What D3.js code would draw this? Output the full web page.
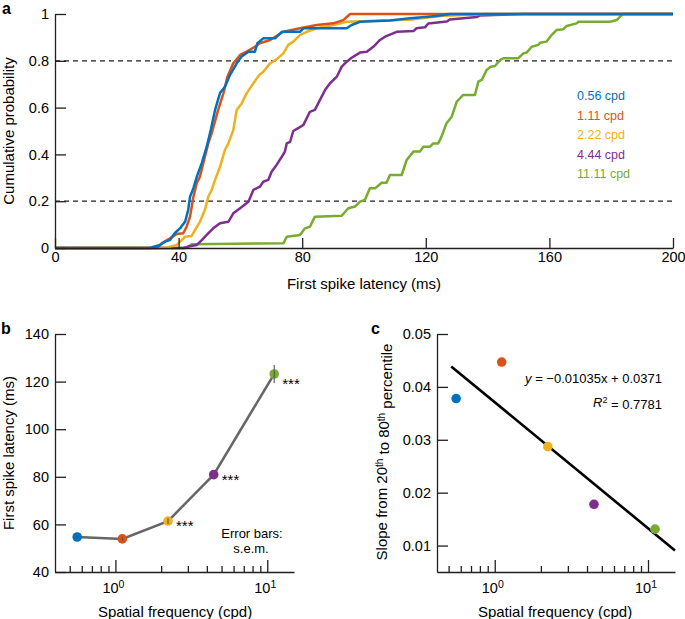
<!DOCTYPE html>
<html>
<head>
<meta charset="utf-8">
<script src="https://cdn.jsdelivr.net/npm/d3@7"></script>
<style>
  html, body { margin: 0; padding: 0; background: #fff; }
  svg { display: block; font-family: "Liberation Sans", Arial, Helvetica, sans-serif; }
</style>
</head>
<body>
<svg id="chart" width="685" height="619"></svg>
<script>
// ---------------- DATA ----------------
const freqs = [0.56, 1.11, 2.22, 4.44, 11.11];
const freqLabels = ["0.56 cpd", "1.11 cpd", "2.22 cpd", "4.44 cpd", "11.11 cpd"];
const colors = ["#0072BD", "#D95319", "#EDB120", "#7E2F8E", "#77AC30"];

// Panel a: cumulative distributions of first spike latency [ms, probability]
const cdf056 = [[0,0],[30.7,0],[31.7,0.004],[34.0,0.013],[35.6,0.027],[37.2,0.034],[38.8,0.064],[40.5,0.085],[42.1,0.112],[43.1,0.162],[43.7,0.219],[44.8,0.256],[45.9,0.305],[47.5,0.363],[49.1,0.433],[50.4,0.504],[51.8,0.590],[53.4,0.662],[55.0,0.689],[56.6,0.739],[58.8,0.789],[60.4,0.818],[62.6,0.839],[64.7,0.839],[65.5,0.875],[67.4,0.896],[71.2,0.896],[73.4,0.924],[79.3,0.924],[80.4,0.939],[94.4,0.939],[96.0,0.953],[98.7,0.967],[108.4,0.972],[114.9,0.982],[123.5,0.991],[127.8,1],[200,1]];
const cdf111 = [[0,0],[33.0,0],[34.5,0.020],[37.2,0.041],[39.4,0.060],[41.5,0.063],[42.6,0.091],[43.7,0.134],[44.8,0.219],[45.9,0.278],[46.9,0.305],[48.0,0.362],[49.6,0.447],[50.7,0.490],[52.8,0.590],[54.5,0.661],[55.8,0.732],[57.7,0.789],[59.9,0.825],[62.0,0.839],[64.7,0.860],[66.3,0.875],[69.6,0.889],[73.9,0.924],[79.3,0.939],[84.7,0.953],[90.1,0.960],[93.3,0.974],[95.5,1],[200,1]];
const cdf222 = [[0,0],[35.6,0],[39.4,0.013],[41.0,0.034],[42.1,0.048],[44.2,0.051],[45.3,0.077],[46.9,0.112],[48.5,0.162],[49.6,0.219],[50.7,0.248],[51.8,0.291],[53.4,0.347],[55.0,0.419],[56.1,0.447],[57.7,0.504],[58.8,0.590],[60.4,0.618],[62.0,0.661],[64.2,0.704],[66.1,0.739],[67.4,0.753],[69.6,0.789],[71.7,0.806],[73.9,0.832],[75.5,0.868],[77.1,0.882],[79.3,0.910],[81.5,0.924],[84.7,0.939],[90.1,0.953],[94.4,0.967],[115.9,0.977],[124.6,0.991],[139.5,1],[200,1]];
const cdf444 = [[0,0],[41.5,0],[43.1,0.006],[45.9,0.013],[47.5,0.034],[49.1,0.056],[51.2,0.084],[53.4,0.106],[56.1,0.112],[57.7,0.148],[59.9,0.170],[62.6,0.198],[64.2,0.248],[66.3,0.262],[67.4,0.283],[69.0,0.291],[70.1,0.326],[71.7,0.355],[73.4,0.390],[74.4,0.412],[75.0,0.447],[76.1,0.454],[77.1,0.500],[78.7,0.512],[80.4,0.526],[82.5,0.582],[84.1,0.590],[86.3,0.647],[87.4,0.675],[89.0,0.704],[91.2,0.732],[92.8,0.775],[94.4,0.796],[96.0,0.813],[98.7,0.835],[100.9,0.839],[103.0,0.860],[105.2,0.889],[106.8,0.903],[110.6,0.924],[116.0,0.927],[117.0,0.939],[119.7,0.943],[120.8,0.959],[126.8,0.968],[127.8,0.977],[136.5,0.987],[137.5,0.994],[151.5,1],[200,1]];
const cdf1111 = [[0,0],[42.6,0],[44.2,0.016],[73.9,0.020],[75.0,0.048],[79.3,0.056],[80.9,0.084],[82.5,0.091],[84.1,0.134],[92.8,0.138],[94.9,0.170],[97.1,0.177],[98.7,0.198],[100.3,0.205],[101.9,0.255],[103.6,0.255],[105.7,0.279],[107.3,0.279],[108.4,0.312],[112.2,0.312],[113.8,0.376],[116.0,0.412],[118.1,0.412],[119.2,0.433],[121.4,0.433],[122.4,0.447],[124.0,0.447],[125.1,0.476],[126.7,0.533],[128.4,0.561],[130.0,0.625],[132.1,0.654],[135.9,0.654],[137.0,0.711],[138.1,0.718],[139.7,0.761],[141.0,0.775],[142.4,0.778],[144.0,0.803],[145.1,0.811],[149.9,0.811],[151.6,0.832],[152.6,0.835],[154.3,0.860],[156.4,0.868],[157.0,0.877],[159.1,0.882],[160.7,0.910],[162.4,0.932],[164.5,0.935],[165.6,0.949],[168.8,0.960],[169.4,0.967],[179.6,0.967],[181.8,0.974],[182.8,0.988],[183.9,1],[200,1]];
const cdfSeries = [cdf056, cdf111, cdf222, cdf444, cdf1111];
const latencyTicks = [0, 40, 80, 120, 160, 200];
const probTicks = [0, 0.2, 0.4, 0.6, 0.8, 1];
const refLines = [0.2, 0.8];

// Panel b: mean first spike latency (ms) and s.e.m.
const meanLatency = [54.7, 53.9, 61.4, 80.9, 123.2];
const semLatency = [0.6, 0.8, 1.2, 1.4, 3.8];
const sigLabels = ["", "", "***", "***", "***"];
const latTicksB = [40, 60, 80, 100, 120, 140];

// Panel c: slope from 20th to 80th percentile
const slope2080 = [0.0378, 0.0447, 0.0287, 0.0178, 0.0131];
const fitSlope = -0.01035, fitIntercept = 0.0371;   // y = a*ln(x) + b
const fitRange = [0.52, 15];
const slopeTicks = [0.01, 0.02, 0.03, 0.04, 0.05];

const minorLog = [0.5, 0.6, 0.7, 0.8, 0.9, 2, 3, 4, 5, 6, 7, 8, 9];
const majorLog = [1, 10];

// ---------------- DRAW ----------------
const svg = d3.select("#chart");
const ink = "#231f20";
const tickFont = "14.5px";
const titleFont = "15px";

function styleAxis(g) {
  g.attr("font-family", null).attr("font-size", null);
  g.selectAll(".domain").attr("stroke", ink).attr("stroke-width", 1.3);
  g.selectAll(".tick line").attr("stroke", ink).attr("stroke-width", 1.3);
  g.selectAll(".tick text").attr("fill", "#000").style("font-size", tickFont);
}

// ===== Panel a =====
const xa = d3.scaleLinear().domain([0, 200]).range([55, 673]);
const ya = d3.scaleLinear().domain([0, 1]).range([248, 14]);

svg.append("g").selectAll("line").data(refLines).join("line")
  .attr("x1", xa(0)).attr("x2", xa(200))
  .attr("y1", d => ya(d)).attr("y2", d => ya(d))
  .attr("stroke", ink).attr("stroke-width", 1.2).attr("stroke-dasharray", "5,4");

const lineA = d3.line().x(d => xa(d[0])).y(d => ya(d[1]));
const orderA = [4, 3, 2, 1, 0];
svg.append("g").selectAll("path").data(orderA).join("path")
  .attr("d", i => lineA(cdfSeries[i]))
  .attr("fill", "none").attr("stroke", i => colors[i])
  .attr("stroke-width", 2.5).attr("stroke-linejoin", "round");

svg.append("g").attr("transform", `translate(${xa(0)},0)`)
  .call(d3.axisLeft(ya).tickValues(probTicks).tickFormat(d => d).tickSize(-11).tickSizeOuter(0).tickPadding(6))
  .call(styleAxis);
svg.append("g").attr("transform", `translate(0,${ya(0)})`)
  .call(d3.axisBottom(xa).tickValues(latencyTicks).tickSize(-10).tickSizeOuter(0).tickPadding(4))
  .call(styleAxis);

svg.append("text").attr("x", 364).attr("y", 289).attr("text-anchor", "middle")
  .style("font-size", titleFont).text("First spike latency (ms)");
svg.append("text").attr("transform", "translate(14,131) rotate(-90)").attr("text-anchor", "middle")
  .style("font-size", titleFont).text("Cumulative probability");

svg.append("g").selectAll("text").data(freqLabels).join("text")
  .attr("x", 577).attr("y", (d, i) => 100 + i * 19.5)
  .attr("fill", (d, i) => colors[i]).style("font-size", "12.5px").text(d => d);

svg.append("text").attr("x", 2).attr("y", 14).style("font-size", "16px").style("font-weight", "bold").text("a");

// ===== log x axis helper =====
function logAxis(x, y0) {
  const g = svg.append("g").attr("transform", `translate(0,${y0})`)
    .call(d3.axisBottom(x).tickValues(minorLog.concat(majorLog)).tickFormat("").tickSize(-6).tickSizeOuter(0))
    .call(styleAxis);
  g.selectAll(".tick").filter(d => majorLog.includes(d)).select("line").attr("y2", -12);
  majorLog.forEach(m => {
    const t = g.append("text").attr("x", x(m) - 2).attr("y", 21).attr("text-anchor", "middle")
      .attr("fill", "#000").style("font-size", tickFont);
    t.append("tspan").text("10");
    t.append("tspan").attr("dy", "-0.45em").style("font-size", "10.5px").text(Math.round(Math.log10(m)));
  });
}

// ===== Panel b =====
const xb = d3.scaleLog().domain([0.4, 15]).range([55, 294]);
const yb = d3.scaleLinear().domain([40, 140]).range([572, 334]);

svg.append("g").attr("transform", `translate(${xb.range()[0]},0)`)
  .call(d3.axisLeft(yb).tickValues(latTicksB).tickSize(-11).tickSizeOuter(0).tickPadding(6))
  .call(styleAxis);
logAxis(xb, 572);

const ptsB = freqs.map((f, i) => ({ f, m: meanLatency[i], s: semLatency[i], c: colors[i], sig: sigLabels[i] }));
svg.append("path").datum(ptsB)
  .attr("d", d3.line().x(d => xb(d.f)).y(d => yb(d.m)))
  .attr("fill", "none").attr("stroke", "#666").attr("stroke-width", 2.5);
svg.append("g").selectAll("circle").data(ptsB).join("circle")
  .attr("cx", d => xb(d.f)).attr("cy", d => yb(d.m)).attr("r", 4.8).attr("fill", d => d.c);
svg.append("g").selectAll("line").data(ptsB).join("line")
  .attr("x1", d => xb(d.f)).attr("x2", d => xb(d.f))
  .attr("y1", d => yb(d.m - d.s)).attr("y2", d => yb(d.m + d.s))
  .attr("stroke", "#555").attr("stroke-width", 1.1);
svg.append("g").selectAll("text").data(ptsB.filter(d => d.sig)).join("text")
  .attr("x", d => xb(d.f) + 8).attr("y", d => yb(d.m) + (d.f > 10 ? 15 : 10))
  .style("font-size", "15px").text(d => d.sig);

svg.append("text").attr("x", 252).attr("y", 538).attr("text-anchor", "middle").style("font-size", "13px").text("Error bars:");
svg.append("text").attr("x", 251).attr("y", 553).attr("text-anchor", "middle").style("font-size", "13px").text("s.e.m.");

svg.append("text").attr("x", 175).attr("y", 617).attr("text-anchor", "middle")
  .style("font-size", titleFont).text("Spatial frequency (cpd)");
svg.append("text").attr("transform", "translate(14,453) rotate(-90)").attr("text-anchor", "middle")
  .style("font-size", titleFont).text("First spike latency (ms)");
svg.append("text").attr("x", 1).attr("y", 334).style("font-size", "16px").style("font-weight", "bold").text("b");

// ===== Panel c =====
const xc = d3.scaleLog().domain([0.42, 15]).range([437, 675]);
const yc = d3.scaleLinear().domain([0.005, 0.05]).range([572, 334]);

svg.append("g").attr("transform", `translate(${xc.range()[0]},0)`)
  .call(d3.axisLeft(yc).tickValues(slopeTicks).tickFormat(d3.format(".2f")).tickSize(-11).tickSizeOuter(0).tickPadding(6))
  .call(styleAxis);
logAxis(xc, 572);

const fitPts = fitRange.map(f => [f, fitSlope * Math.log(f) + fitIntercept]);
svg.append("path").datum(fitPts)
  .attr("d", d3.line().x(d => xc(d[0])).y(d => yc(d[1])))
  .attr("stroke", "#000").attr("stroke-width", 2.6).attr("fill", "none");
svg.append("g").selectAll("circle").data(freqs).join("circle")
  .attr("cx", d => xc(d)).attr("cy", (d, i) => yc(slope2080[i])).attr("r", 4.8)
  .attr("fill", (d, i) => colors[i]);

const eq = svg.append("text").attr("x", 662).attr("y", 383).attr("text-anchor", "end").style("font-size", "13px");
eq.append("tspan").style("font-style", "italic").text("y");
eq.append("tspan").text(" = \u22120.01035x + 0.0371");
const r2 = svg.append("text").attr("x", 662).attr("y", 407).attr("text-anchor", "end").style("font-size", "13px");
r2.append("tspan").style("font-style", "italic").text("R");
r2.append("tspan").attr("dy", "-0.45em").style("font-size", "9px").text("2");
r2.append("tspan").attr("dy", "0.45em").text(" = 0.7781");

const yl = svg.append("text").attr("transform", "translate(387,452) rotate(-90)").attr("text-anchor", "middle")
  .style("font-size", titleFont);
yl.append("tspan").text("Slope from 20");
yl.append("tspan").attr("dy", "-0.45em").style("font-size", "10px").text("th");
yl.append("tspan").attr("dy", "0.45em").text(" to 80");
yl.append("tspan").attr("dy", "-0.45em").style("font-size", "10px").text("th");
yl.append("tspan").attr("dy", "0.45em").text(" percentile");

svg.append("text").attr("x", 555).attr("y", 617).attr("text-anchor", "middle")
  .style("font-size", titleFont).text("Spatial frequency (cpd)");
svg.append("text").attr("x", 371).attr("y", 334).style("font-size", "16px").style("font-weight", "bold").text("c");
</script>
</body>
</html>
